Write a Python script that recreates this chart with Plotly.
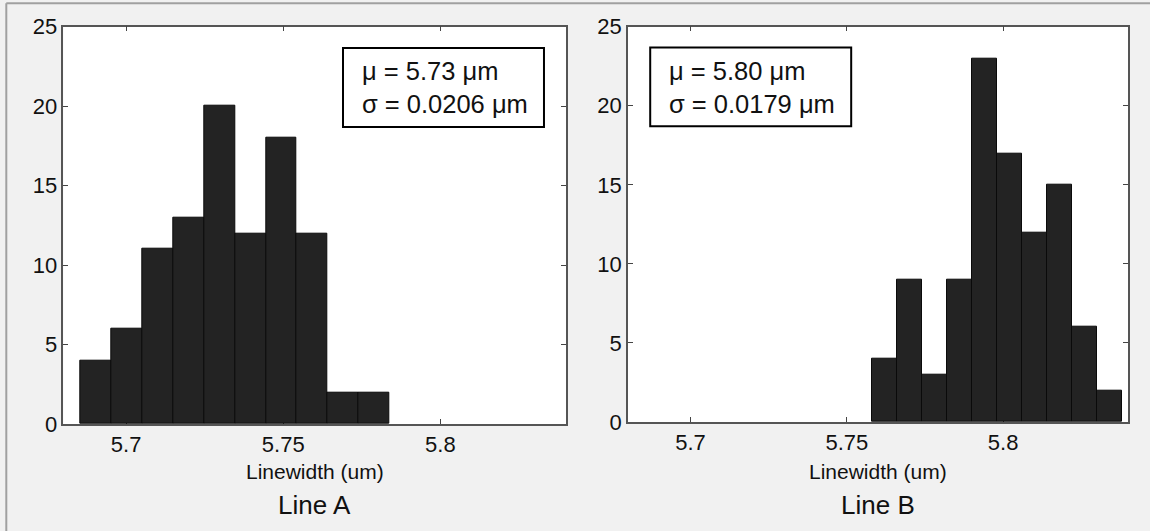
import plotly.graph_objects as go

# ---- data ----
counts_a = [4, 6, 11, 13, 20, 12, 18, 12, 2, 2]
bin_start_a = 5.6855
bin_width_a = 0.00983

counts_b = [4, 9, 3, 9, 23, 17, 12, 15, 6, 2]
bin_start_b = 5.7581
bin_width_b = 0.00798

x_ticks = [5.7, 5.75, 5.8]
x_tick_labels = ["5.7", "5.75", "5.8"]
y_ticks = [0, 5, 10, 15, 20, 25]
x_range = [5.68, 5.84]
y_range = [0, 25]

stats_a = "μ = 5.73 μm<br>σ = 0.0206 μm"
stats_b = "μ = 5.80 μm<br>σ = 0.0179 μm"
panel_titles = ["Line A", "Line B"]
x_title = "Linewidth (um)"

FONT = "Liberation Sans, Arial, Helvetica, sans-serif"
W, H = 1150, 531


def centers(start, width, n):
    return [start + width * (i + 0.5) for i in range(n)]


fig = go.Figure()
fig.add_trace(go.Bar(
    x=centers(bin_start_a, bin_width_a, len(counts_a)), y=counts_a,
    width=bin_width_a, marker=dict(color="#232323", line=dict(color="#0a0a0a", width=1)),
    xaxis="x", yaxis="y", showlegend=False, hoverinfo="skip"))
fig.add_trace(go.Bar(
    x=centers(bin_start_b, bin_width_b, len(counts_b)), y=counts_b,
    width=bin_width_b, marker=dict(color="#232323", line=dict(color="#0a0a0a", width=1)),
    xaxis="x2", yaxis="y2", showlegend=False, hoverinfo="skip"))

# panel geometry (pixels)
L_x0, L_x1, L_top, L_bot = 63.3, 566.0, 26.7, 424.0
R_x0, R_x1, R_top, R_bot = 628.0, 1128.2, 26.7, 422.0

axis_common = dict(
    showline=True, mirror="ticks", linecolor="#555555", linewidth=1.5,
    ticks="inside", ticklen=5, tickcolor="#444444", tickwidth=1,
    showgrid=False, zeroline=False, layer="below traces", automargin=False,
    tickfont=dict(family=FONT, size=22, color="#111111"),
)

fig.update_layout(
    width=W, height=H,
    margin=dict(l=0, r=0, t=0, b=0, pad=0),
    paper_bgcolor="#f1f1f1", plot_bgcolor="white",
    bargap=0,
    xaxis=dict(domain=[L_x0 / W, L_x1 / W], range=x_range, tickvals=x_ticks,
               ticktext=x_tick_labels, anchor="y", ticklabelstandoff=0, **axis_common),
    yaxis=dict(domain=[1 - L_bot / H, 1 - L_top / H], range=y_range, tickvals=y_ticks,
               anchor="x", **axis_common),
    xaxis2=dict(domain=[R_x0 / W, R_x1 / W], range=x_range, tickvals=x_ticks,
                ticktext=x_tick_labels, anchor="y2", ticklabelstandoff=0, **axis_common),
    yaxis2=dict(domain=[1 - R_bot / H, 1 - R_top / H], range=y_range, tickvals=y_ticks,
                anchor="x2", **axis_common),
)

# stats boxes
fig.add_shape(type="rect", xref="x domain", yref="y domain",
              x0=0.5564, x1=0.9562, y0=0.7475, y1=0.9464,
              line=dict(color="#000000", width=2), fillcolor="white", layer="above")
fig.add_shape(type="rect", xref="x2 domain", yref="y2 domain",
              x0=0.0444, x1=0.4462, y0=0.748, y1=0.9476,
              line=dict(color="#000000", width=2), fillcolor="white", layer="above")
fig.add_annotation(xref="x domain", yref="y domain", x=0.590, y=0.847,
                   text=stats_a, showarrow=False, xanchor="left", yanchor="middle",
                   align="left", font=dict(family=FONT, size=25.5, color="#111111"))
fig.add_annotation(xref="x2 domain", yref="y2 domain", x=0.078, y=0.847,
                   text=stats_b, showarrow=False, xanchor="left", yanchor="middle",
                   align="left", font=dict(family=FONT, size=25.5, color="#111111"))

# axis titles and panel labels
for xc, title in zip([(L_x0 + L_x1) / 2, (R_x0 + R_x1) / 2], panel_titles):
    fig.add_annotation(xref="paper", yref="paper", x=xc / W, y=1 - 471 / H,
                       text=x_title, showarrow=False, xanchor="center", yanchor="middle",
                       font=dict(family=FONT, size=21, color="#111111"))
    fig.add_annotation(xref="paper", yref="paper", x=xc / W, y=1 - 505 / H,
                       text=title, showarrow=False, xanchor="center", yanchor="middle",
                       font=dict(family=FONT, size=26, color="#111111"))

# window frame lines (top and left)
fig.add_shape(type="line", xref="paper", yref="paper", x0=6.3 / W, x1=1, y0=1 - 3.3 / H, y1=1 - 3.3 / H,
              line=dict(color="#a0a0a0", width=2))
fig.add_shape(type="line", xref="paper", yref="paper", x0=6.3 / W, x1=6.3 / W, y0=0, y1=1 - 3.3 / H,
              line=dict(color="#a0a0a0", width=2))

fig.write_html("out.html", config={"displayModeBar": False},
               post_script="document.body.style.margin='0';document.body.style.overflow='hidden';")
